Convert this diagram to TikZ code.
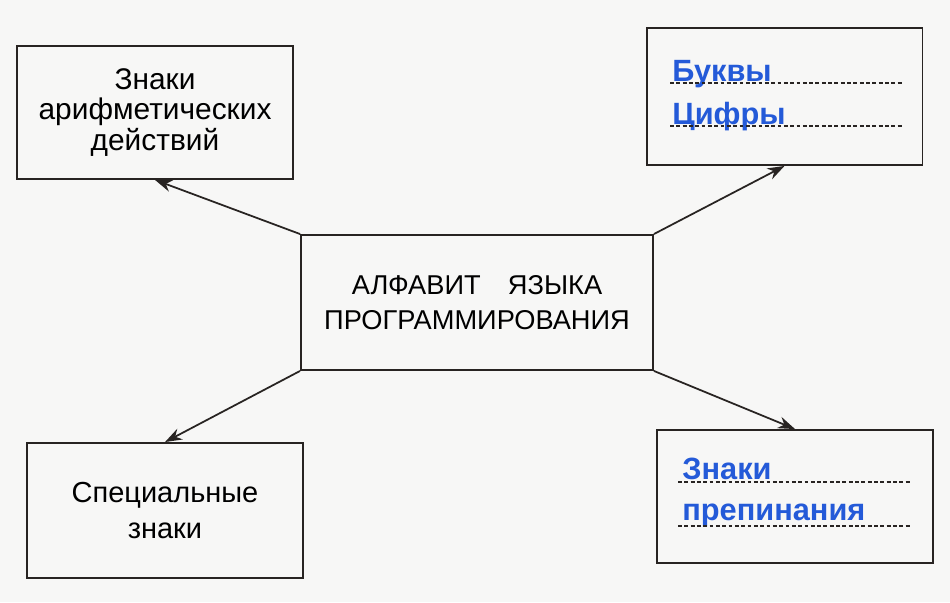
\documentclass[tikz,border=0pt]{standalone}
\usepackage{fontspec}
\setmainfont{Liberation Sans}
\usetikzlibrary{arrows.meta}
\definecolor{pagebg}{RGB}{247,247,246}
\definecolor{inkblue}{RGB}{36,90,216}
\definecolor{ink}{RGB}{40,36,34}
\tikzset{
  frame/.style={draw=ink, line width=1.1pt, inner sep=0pt, minimum width=5.52cm, minimum height=2.66cm, align=center, font=\fontsize{16.5}{17}\selectfont},
  answer/.style={inkblue, anchor=base west, inner sep=0pt, font=\fontsize{17.5}{20}\selectfont\bfseries},
  dotline/.style={ink, dash pattern=on 2.2pt off 1.4pt, line width=0.6pt},
  link/.style={ink, line width=1pt, -{Stealth[length=3.4mm,width=2.4mm]}}
}
\begin{document}
\begin{tikzpicture}[x=0.02cm, y=0.02cm]
\path[fill=pagebg] (0,0) rectangle (950,602);
\node[frame, minimum width=7.04cm, minimum height=2.7cm, font=\fontsize{15.5}{17}\selectfont] (alph) at (477,299.5){АЛФАВИТ\hspace{1em}ЯЗЫКА\\[3pt]ПРОГРАММИРОВАНИЯ};
\node[frame, font=\fontsize{17}{17.2}\selectfont] (arith) at (155,489.5){Знаки\\арифметических\\действий};
\node[frame, minimum height=2.74cm] (letters) at (784.5,505.5){};
\node[frame, minimum height=2.7cm] (special) at (165,91.5){Специальные\\[3pt]знаки};
\node[frame] (punct) at (795,105.5){};
\node[answer] (lettersA) at (672,520){Буквы};
\node[answer] (digitsA) at (672,477){Цифры};
\draw[dotline] (670,519) -- (902,519);
\draw[dotline] (670,476) -- (902,476);
\node[answer] (punctA) at (682,122){Знаки};
\node[answer] (punctB) at (682,82){препинания};
\draw[dotline] (678,120) -- (910,120);
\draw[dotline] (678,76) -- (910,76);
\draw[link](alph.north west) -- (arith.south);
\draw[link](alph.north east) -- (letters.south);
\draw[link](alph.south west) -- (special.north);
\draw[link](alph.south east) -- (punct.north);
\end{tikzpicture}
\end{document}
